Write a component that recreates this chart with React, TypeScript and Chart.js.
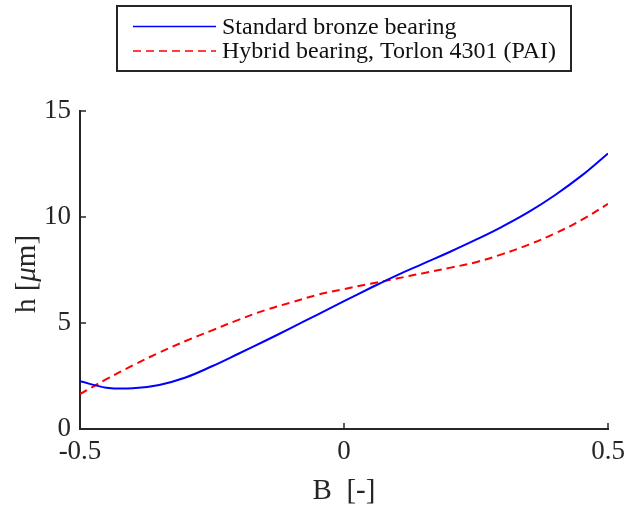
import React, { useEffect, useRef } from "react";
import { Chart, registerables } from "chart.js";

Chart.register(...registerables);

const bValues = [
  -0.5, -0.45, -0.4, -0.35, -0.3, -0.25, -0.2, -0.15, -0.1, -0.05, 0,
  0.05, 0.1, 0.15, 0.2, 0.25, 0.3, 0.35, 0.4, 0.45, 0.5,
];
const bronzeH = [
  2.25, 1.95, 1.92, 2.08, 2.43, 2.96, 3.55, 4.15, 4.77, 5.4, 6.03,
  6.65, 7.25, 7.8, 8.35, 8.93, 9.55, 10.24, 11.04, 11.95, 13.0,
];
const hybridH = [
  1.65, 2.35, 3.0, 3.6, 4.15, 4.65, 5.15, 5.6, 5.97, 6.33, 6.6,
  6.85, 7.1, 7.35, 7.6, 7.87, 8.25, 8.7, 9.23, 9.86, 10.62,
];
const seriesLabels = [
  "Standard bronze bearing",
  "Hybrid bearing, Torlon 4301 (PAI)",
];
const xTicks = [-0.5, 0, 0.5];
const yTicks = [0, 5, 10, 15];

const FONT = "'Liberation Serif', 'Times New Roman', serif";
const AXIS_COLOR = "#262626";
const TICK_SIZE = 27;
const TITLE_SIZE = 29;

const decorPlugin = {
  id: "decor",
  afterDraw(chart: any) {
    const ctx = chart.ctx;
    const xs = chart.scales.x;
    const ys = chart.scales.y;
    const area = chart.chartArea;
    ctx.save();
    // inward tick marks
    ctx.strokeStyle = AXIS_COLOR;
    ctx.lineWidth = 1.5;
    xTicks.forEach((v) => {
      const px = xs.getPixelForValue(v);
      ctx.beginPath();
      ctx.moveTo(px, area.bottom);
      ctx.lineTo(px, area.bottom - 6);
      ctx.stroke();
    });
    yTicks.forEach((v) => {
      const py = ys.getPixelForValue(v);
      ctx.beginPath();
      ctx.moveTo(area.left, py);
      ctx.lineTo(area.left + 6, py);
      ctx.stroke();
    });

    // y axis title: h [μm] with italic μ, rotated
    ctx.fillStyle = AXIS_COLOR;
    ctx.translate(27, (area.top + area.bottom) / 2 + 4);
    ctx.rotate(-Math.PI / 2);
    const p1 = "h [";
    const p2 = "\u03bc";
    const p3 = "m]";
    ctx.font = `${TITLE_SIZE}px ${FONT}`;
    const w1 = ctx.measureText(p1).width;
    const w3 = ctx.measureText(p3).width;
    ctx.font = `italic ${TITLE_SIZE}px ${FONT}`;
    const w2 = ctx.measureText(p2).width;
    const total = w1 + w2 + w3;
    let cx = -total / 2;
    ctx.textBaseline = "middle";
    ctx.textAlign = "left";
    ctx.font = `${TITLE_SIZE}px ${FONT}`;
    ctx.fillText(p1, cx, 0);
    cx += w1;
    ctx.font = `italic ${TITLE_SIZE}px ${FONT}`;
    ctx.fillText(p2, cx, 0);
    cx += w2;
    ctx.font = `${TITLE_SIZE}px ${FONT}`;
    ctx.fillText(p3, cx, 0);
    ctx.restore();

    // legend box
    ctx.save();
    const bx = 117, by = 6, bw = 454, bh = 65;
    ctx.fillStyle = "#ffffff";
    ctx.fillRect(bx, by, bw, bh);
    ctx.strokeStyle = "#262626";
    ctx.lineWidth = 2;
    ctx.strokeRect(bx, by, bw, bh);
    const rows = [26.5, 51];
    chart.data.datasets.forEach((ds: any, i: number) => {
      const y = rows[i];
      ctx.strokeStyle = ds.borderColor;
      ctx.lineWidth = 1.5;
      ctx.setLineDash(ds.borderDash || []);
      ctx.beginPath();
      ctx.moveTo(133, y);
      ctx.lineTo(216, y);
      ctx.stroke();
      ctx.setLineDash([]);
      ctx.fillStyle = "#111111";
      ctx.font = `24px ${FONT}`;
      ctx.textBaseline = "middle";
      ctx.textAlign = "left";
      ctx.fillText(ds.label, 222, y + 1);
    });
    ctx.restore();
  },
};

export default function App() {
  const ref = useRef<HTMLCanvasElement>(null);
  useEffect(() => {
    document.body.style.margin = "0";
    const canvas = ref.current!;
    const chart = new Chart(canvas, {
      type: "line",
      data: {
        datasets: [
          {
            label: seriesLabels[0],
            data: bValues.map((b, i) => ({ x: b, y: bronzeH[i] })),
            borderColor: "#0000ff",
            borderWidth: 2,
            pointRadius: 0,
            tension: 0.4,
            fill: false,
          },
          {
            label: seriesLabels[1],
            data: bValues.map((b, i) => ({ x: b, y: hybridH[i] })),
            borderColor: "#ff0000",
            borderWidth: 2,
            borderDash: [8, 5],
            pointRadius: 0,
            tension: 0.4,
            fill: false,
          },
        ],
      },
      options: {
        animation: false,
        responsive: false,
        maintainAspectRatio: false,
        layout: { padding: { top: 111, right: 17, left: 0, bottom: 0 } },
        plugins: {
          legend: { display: false },
          tooltip: { enabled: false },
        },
        scales: {
          x: {
            type: "linear",
            min: -0.5,
            max: 0.5,
            afterBuildTicks: (s: any) => {
              s.ticks = xTicks.map((v) => ({ value: v }));
            },
            afterFit: (s: any) => {
              s.height = 80;
              s.paddingLeft = 0;
              s.paddingRight = 0;
            },
            ticks: {
              color: AXIS_COLOR,
              font: { family: FONT, size: TICK_SIZE },
              padding: 7,
              maxRotation: 0,
              callback: (v: any) => String(v),
            },
            grid: { display: true, drawOnChartArea: false, drawTicks: false },
            border: { display: true, color: AXIS_COLOR, width: 2 },
            title: {
              display: true,
              text: "B  [-]",
              color: AXIS_COLOR,
              font: { family: FONT, size: TITLE_SIZE },
              padding: { top: 0, bottom: 0 },
            },
          },
          y: {
            type: "linear",
            min: 0,
            max: 15,
            afterBuildTicks: (s: any) => {
              s.ticks = yTicks.map((v) => ({ value: v }));
            },
            afterFit: (s: any) => {
              s.width = 80;
              s.paddingTop = 0;
              s.paddingBottom = 0;
            },
            ticks: {
              color: AXIS_COLOR,
              font: { family: FONT, size: TICK_SIZE },
              padding: 9,
              callback: (v: any) => String(v),
            },
            grid: { display: true, drawOnChartArea: false, drawTicks: false },
            border: { display: true, color: AXIS_COLOR, width: 2 },
          },
        },
      },
      plugins: [decorPlugin],
    });
    return () => chart.destroy();
  }, []);
  return (
    <div style={{ position: "absolute", left: 0, top: 0, width: 625, height: 509, background: "#fff" }}>
      <canvas ref={ref} width={625} height={509} style={{ width: 625, height: 509 }} />
    </div>
  );
}
